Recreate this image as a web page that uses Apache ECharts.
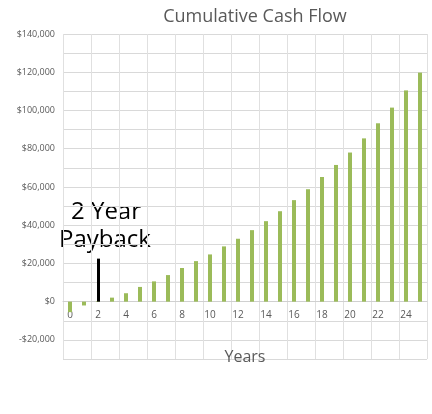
<!DOCTYPE html>
<html>
<head>
<meta charset="utf-8">
<script src="https://cdn.jsdelivr.net/npm/echarts@6/dist/echarts.min.js"></script>
<style>html,body{margin:0;background:#fff}#c{width:432px;height:414px}</style>
</head>
<body>
<div id="c"></div>
<script>
// Years 0..25 and cumulative cash flow
const years = Array.from({length: 26}, (_, i) => String(i));
const cashFlow = [-5500, -2000, 300, 2100, 4400, 7700, 10600, 13900, 17600, 21200, 24700, 28900, 32900,
    37400, 42100, 47300, 53100, 58800, 65200, 71500, 78000, 85400, 93300, 101500, 110500, 119800];
const paybackYear = '2';
const paybackTop = 22500;

const chart = echarts.init(document.getElementById('c'));
chart.setOption({
    animation: false,
    title: {
        text: 'Cumulative Cash Flow', left: 250, top: 3, textAlign: 'center',
        textStyle: {fontFamily: 'Open Sans', fontSize: 18, fontWeight: 'normal', color: '#595959'}
    },
    grid: {left: 63, right: 5, top: 34, bottom: 55, outerBoundsMode: 'none'},
    xAxis: {
        type: 'category', data: years, offset: -57,
        name: 'Years', nameLocation: 'middle', nameGap: 47,
        nameTextStyle: {fontFamily: 'Open Sans', fontSize: 16, color: '#595959'},
        axisLine: {lineStyle: {color: '#d0d0d0'}},
        axisTick: {show: false},
        axisLabel: {interval: 1, color: '#595959', fontSize: 10, fontFamily: 'Open Sans'},
        splitLine: {show: true, interval: 1, lineStyle: {color: '#e0e0e0'}}
    },
    yAxis: {
        type: 'value', min: -30000, max: 140000, interval: 10000,
        axisLine: {show: false}, axisTick: {show: false},
        axisLabel: {
            color: '#595959', fontSize: 9, fontFamily: 'Open Sans',
            formatter: v => (v % 20000 !== 0 || v < -20000) ? '' :
                (v < 0 ? '-$' : '$') + Math.abs(v).toLocaleString('en-US')
        },
        splitLine: {lineStyle: {color: '#d9d9d9'}}
    },
    series: [{
        type: 'bar', data: cashFlow, barWidth: 4,
        itemStyle: {color: '#9bbb59'},
        markLine: {
            silent: true, symbol: 'none', label: {show: false},
            lineStyle: {color: '#000', width: 3, type: 'solid'},
            data: [[{coord: [paybackYear, 0]}, {coord: [paybackYear, paybackTop]}]]
        }
    }],
    graphic: [
        {type: 'text', left: 71, top: 200, style: {text: '2 Year', font: '24px "Open Sans"', fill: '#000'}},
        {type: 'text', left: 59, top: 228, style: {text: 'Payback', font: '24px "Open Sans"', fill: '#000'}}
    ]
});
</script>
</body>
</html>
